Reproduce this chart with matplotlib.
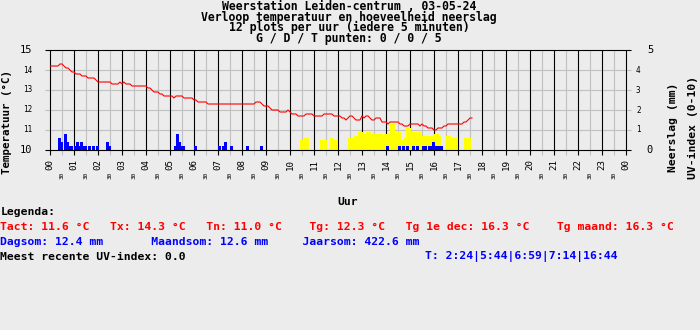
# Weerstation Leiden-centrum: temperatuur, neerslag en UV-index van 03-05-24
import matplotlib
matplotlib.use('Agg')
import matplotlib.pyplot as plt

plt.rcParams['font.family'] = ['DejaVu Sans Mono']

BG = '#ECECEC'
GRID = '#C0C0C0'
W, H = 700, 330  # figuurgrootte in pixels

# temperatuur per 5 minuten (12 waarden per uur), 00:00 - 17:35
temp = [
    14.2, 14.2, 14.2, 14.2, 14.2, 14.3, 14.3, 14.2, 14.1, 14.1, 14.0, 13.9,  # 00
    13.9, 13.8, 13.8, 13.8, 13.7, 13.7, 13.7, 13.6, 13.6, 13.6, 13.6, 13.5,  # 01
    13.4, 13.4, 13.4, 13.4, 13.4, 13.4, 13.4, 13.3, 13.3, 13.3, 13.3, 13.4,  # 02
    13.3, 13.4, 13.3, 13.3, 13.3, 13.2, 13.2, 13.2, 13.2, 13.2, 13.2, 13.2,  # 03
    13.2, 13.1, 13.1, 13.0, 12.9, 12.9, 12.9, 12.8, 12.8, 12.7, 12.7, 12.7,  # 04
    12.7, 12.7, 12.6, 12.7, 12.7, 12.7, 12.7, 12.6, 12.6, 12.6, 12.6, 12.6,  # 05
    12.5, 12.5, 12.4, 12.4, 12.4, 12.4, 12.4, 12.3, 12.3, 12.3, 12.3, 12.3,  # 06
    12.3, 12.3, 12.3, 12.3, 12.3, 12.3, 12.3, 12.3, 12.3, 12.3, 12.3, 12.3,  # 07
    12.3, 12.3, 12.3, 12.3, 12.3, 12.3, 12.3, 12.4, 12.4, 12.4, 12.3, 12.2,  # 08
    12.2, 12.2, 12.1, 12.0, 12.0, 12.0, 12.0, 11.9, 11.9, 11.9, 11.9, 12.0,  # 09
    11.9, 11.8, 11.8, 11.8, 11.7, 11.7, 11.7, 11.7, 11.8, 11.8, 11.8, 11.8,  # 10
    11.7, 11.7, 11.7, 11.7, 11.7, 11.8, 11.8, 11.8, 11.8, 11.8, 11.7, 11.7,  # 11
    11.7, 11.7, 11.6, 11.6, 11.5, 11.6, 11.7, 11.7, 11.6, 11.5, 11.5, 11.5,  # 12
    11.7, 11.6, 11.7, 11.7, 11.6, 11.5, 11.5, 11.6, 11.6, 11.6, 11.4, 11.4,  # 13
    11.4, 11.3, 11.4, 11.4, 11.4, 11.4, 11.4, 11.3, 11.3, 11.2, 11.2, 11.2,  # 14
    11.3, 11.3, 11.3, 11.3, 11.3, 11.2, 11.3, 11.2, 11.2, 11.1, 11.1, 11.1,  # 15
    11.0, 11.0, 11.1, 11.1, 11.1, 11.2, 11.2, 11.3, 11.3, 11.3, 11.3, 11.3,  # 16
    11.3, 11.3, 11.3, 11.4, 11.4, 11.5, 11.6, 11.6,                          # 17
]

# neerslag (mm) per 5-minuten-plot: index van de plot en hoeveelheid
rain_slot = [4, 5, 7, 8, 9, 10, 12, 13, 14, 15, 16, 17, 19, 21, 23, 28, 29,
             62, 63, 64, 65, 66, 72, 84, 86, 87, 90, 98, 105,
             168, 174, 176, 178, 181, 183, 186, 187,
             189, 190, 191, 192, 193, 194, 195]
rain_mm = [0.6, 0.4, 0.8, 0.4, 0.2, 0.2, 0.2, 0.4, 0.2, 0.4, 0.2, 0.2, 0.2, 0.2, 0.2, 0.4, 0.2,
           0.2, 0.8, 0.4, 0.2, 0.2, 0.2, 0.2, 0.2, 0.4, 0.2, 0.2, 0.2,
           0.2, 0.2, 0.2, 0.2, 0.2, 0.2, 0.2, 0.2,
           0.2, 0.2, 0.4, 0.2, 0.2, 0.2, 0.2]

# UV-balken (gele staven) per 5-minuten-plot
uv_slot = [125, 126, 127, 128, 135, 137, 140, 141, 142,
           149, 150, 151, 152, 153, 154, 155, 156, 157, 158, 159, 160, 161,
           162, 163, 164, 165, 166, 167, 168, 169, 170, 171, 172, 173, 174,
           175, 176, 177, 178, 179, 180, 181, 182, 183, 184, 185, 186, 187,
           188, 189, 190, 191, 192, 193, 194,
           198, 199, 200, 201, 202, 207, 209]
uv_val = [0.5, 0.5, 0.6, 0.6, 0.5, 0.5, 0.6, 0.5, 0.5,
          0.6, 0.6, 0.6, 0.7, 0.7, 0.9, 0.9, 0.8, 0.8, 0.9, 0.9, 0.8, 0.8,
          0.8, 0.8, 0.8, 0.8, 0.7, 0.8, 0.8, 0.8, 1.3, 1.3, 0.8, 0.9, 0.9,
          0.5, 0.5, 0.6, 1.1, 1.1, 0.9, 0.9, 0.9, 0.6, 0.9, 0.7, 0.7, 0.7,
          0.7, 0.7, 0.7, 0.7, 0.8, 0.8, 0.7,
          0.7, 0.7, 0.6, 0.6, 0.6, 0.6, 0.6]

hour_labels = ['%02d' % (h % 24) for h in range(25)]
temp_ticks = [10, 11, 12, 13, 14, 15]
rain_ticks = [0, 1, 2, 3, 4, 5]

title_lines = ['Weerstation Leiden-centrum , 03-05-24',
               'Verloop temperatuur en hoeveelheid neerslag',
               '12 plots per uur (iedere 5 minuten)',
               'G / D / T punten: 0 / 0 / 5']


def fy(py):
    # pixelrij -> figuurcoordinaat
    return 1 - py / H


fig = plt.figure(figsize=(W / 100, H / 100), dpi=100, facecolor=BG)
ax_t = fig.add_axes([50 / W, fy(150), 576 / W, 100 / H])
ax_r = ax_t.twinx()
ax_t.set_zorder(ax_r.get_zorder() + 1)
ax_t.patch.set_visible(False)
ax_r.patch.set_visible(True)
ax_r.set_facecolor(BG)

ax_t.set_xlim(0, 288)
ax_t.set_ylim(10, 15)
ax_r.set_ylim(0, 5)
for a in (ax_t, ax_r):
    for s in a.spines.values():
        s.set_visible(False)
    a.set_yticks([])

# rasterlijnen (steken iets buiten het plotvlak uit)
hours = list(range(0, 289, 12))
halves = list(range(6, 288, 12))
xt = ax_r.get_xaxis_transform()
yt = ax_r.get_yaxis_transform()
ext = 5 / 576
ax_r.vlines(halves, -0.05, 1, transform=xt, colors=GRID, lw=0.8, clip_on=False, zorder=1)
ax_r.hlines(rain_ticks[1:-1], -ext, 1 + ext, transform=yt, colors=GRID, lw=0.8, clip_on=False, zorder=1)
ax_r.vlines(hours, -0.05, 1, transform=xt, colors='black', lw=0.8, clip_on=False, zorder=1.5)

# staven: eerst UV (geel), dan neerslag (blauw)
ax_r.bar(uv_slot, uv_val, width=1.5, align='edge', color='#FFFF00', linewidth=0, zorder=2)
ax_r.bar(rain_slot, rain_mm, width=1.35, align='edge', color='#0000FF', linewidth=0, zorder=2.5)
ax_r.hlines([rain_ticks[0], rain_ticks[-1]], -ext, 1 + ext, transform=yt,
            colors='black', lw=0.8, clip_on=False, zorder=3)

# temperatuurlijn
ax_t.plot(range(len(temp)), temp, color='#FF0000', lw=0.8)

# x-as labels: uren en halve uren
ax_t.set_xticks(hours, hour_labels)
ax_t.set_xticks(halves, ['30'] * len(halves), minor=True)
ax_t.tick_params(axis='x', which='major', length=0, pad=6.3, labelsize=6.6, labelrotation=90)
ax_t.tick_params(axis='x', which='minor', length=0, pad=15.5, labelsize=4.3, labelrotation=90)

# y-as labels links (temperatuur) en rechts (neerslag)
for v in temp_ticks:
    big = v in (temp_ticks[0], temp_ticks[-1])
    ax_t.annotate(str(v), xy=(0, v), xycoords=('axes fraction', 'data'),
                  xytext=(-12.5, 0), textcoords='offset points',
                  ha='right', va='center', fontsize=7.5 if big else 5.5)
for v in rain_ticks:
    big = v in (rain_ticks[0], rain_ticks[-1])
    ax_r.annotate(str(v), xy=(1, v), xycoords=('axes fraction', 'data'),
                  xytext=(15 if big else 7.2, 0), textcoords='offset points',
                  ha='left', va='center', fontsize=7.5 if big else 5.5)

fig.text(7.5 / W, fy(122), 'Temperatuur (°C)', rotation=90, ha='center', va='center',
         fontsize=7.8, fontweight='bold')
fig.text(672.5 / W, fy(127), 'Neerslag (mm)', rotation=90, ha='center', va='center',
         fontsize=8.2, fontweight='bold')
fig.text(692.5 / W, fy(127), 'UV-index (0-10)', rotation=90, ha='center', va='center',
         fontsize=8.2, fontweight='bold')
fig.text(348 / W, fy(202), 'Uur', ha='center', va='center', fontsize=8.2, fontweight='bold')

# titel: een tekstblok met krappe regelafstand (10 px per regel)
fig.text(349 / W, fy(22.5), '\n'.join(title_lines), ha='center', va='center',
         multialignment='center', linespacing=0.76, fontsize=8.3, fontweight='bold')

# legenda
leg = dict(ha='left', va='center', fontsize=8.2, fontweight='bold')
fig.text(0.5 / W, fy(212), 'Legenda:', color='black', **leg)
fig.text(0.5 / W, fy(227), 'Tact: 11.6 °C   Tx: 14.3 °C   Tn: 11.0 °C    Tg: 12.3 °C   '
         'Tg 1e dec: 16.3 °C    Tg maand: 16.3 °C', color='#FF0000', **leg)
fig.text(0.5 / W, fy(242), 'Dagsom: 12.4 mm       Maandsom: 12.6 mm     Jaarsom: 422.6 mm',
         color='#0000FF', **leg)
fig.text(0.5 / W, fy(257), 'Meest recente UV-index: 0.0', color='black', **leg)
fig.text(425 / W, fy(257), 'T: 2:24|5:44|6:59|7:14|16:44', color='#0000FF', **leg)

fig.savefig('out.png', dpi=100, facecolor=BG)
plt.close(fig)
